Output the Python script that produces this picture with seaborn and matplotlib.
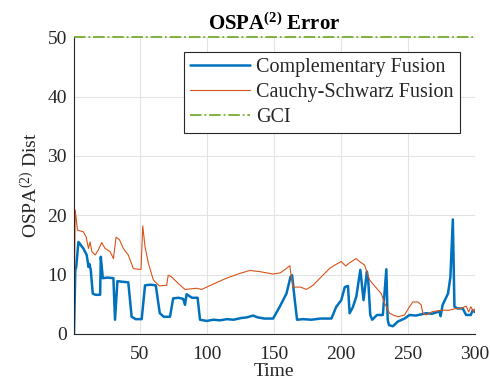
import matplotlib
matplotlib.use("Agg")
import matplotlib.pyplot as plt
import seaborn as sns
import pandas as pd

# Complementary Fusion error over time
comp_t = [1, 2, 2.6, 4.3, 8, 10.5, 11.8, 12.5, 13.5, 15, 17, 20.5, 21, 22.5, 26,
          30.4, 31.6, 33.4, 37, 41.5, 44, 47, 51.5, 54, 58, 62, 65, 68, 72.6,
          75, 79, 82.5, 83.8, 85, 89, 93.2, 95, 100, 105, 110, 115, 120, 126,
          130, 134.6, 138, 143, 149.5, 154.5, 159.5, 162.5, 163.7, 165.7, 167.4,
          172, 178, 185, 193, 196.7, 200.4, 203, 205.4, 206.6, 209, 211.6,
          214.6, 217, 219.5, 220.5, 222, 223.5, 227, 231.4, 234, 235, 236,
          238.9, 242.6, 247.6, 251.3, 256, 260, 263.7, 268, 273.6, 274.5, 276,
          280, 281.8, 283.6, 284.8, 287, 291, 293.5, 297, 298.4, 300]
comp_v = [0, 11.0, 11.1, 15.5, 14.4, 13.3, 11.3, 11.8, 10.8, 6.8, 6.6, 6.6, 13.0, 9.4, 9.5,
          9.4, 2.4, 8.9, 8.8, 8.7, 2.9, 2.5, 2.5, 8.2, 8.3, 8.2, 3.5, 2.9, 2.9,
          6.0, 6.1, 5.9, 4.9, 6.7, 6.1, 6.1, 2.4, 2.2, 2.4, 2.3, 2.5, 2.4, 2.7,
          2.8, 3.1, 2.8, 2.6, 2.6, 4.6, 6.8, 9.6, 9.9, 5.7, 2.4, 2.5, 2.4,
          2.6, 2.6, 4.6, 5.7, 7.9, 8.1, 3.5, 4.5, 6.3, 10.8, 5.7, 10.5, 9.0,
          3.2, 2.4, 3.2, 3.2, 10.9, 2.4, 1.5, 1.3, 2.1, 2.6, 3.2, 3.1, 3.3,
          3.5, 3.4, 3.8, 3.0, 4.9, 6.8, 9.6, 19.3, 4.6, 4.3, 4.3, 3.2, 3.2,
          4.0, 3.7]

# Cauchy-Schwarz Fusion error over time
cs_t = [1, 1.9, 3.6, 8, 10, 11.8, 13, 14.3, 16.8, 19, 21.7, 24.2, 27.9, 30.4,
        32.4, 34.9, 37.8, 41.5, 45.3, 49, 51, 52.3, 54, 56.5, 60.2, 64.7, 70.1,
        71.3, 73.9, 78.8, 83.8, 92.5, 96.2, 104.8, 114.8, 124.7, 132.2, 139.6,
        149.5, 155, 159.5, 162, 163, 164.4, 170, 174.4, 179.3, 186.7, 191.7,
        195.5, 200.4, 203.6, 206.6, 211.6, 214, 217.8, 221.5, 225.2, 230.2,
        232.7, 236.4, 239, 242.6, 247.6, 251.3, 253.8, 257.5, 260, 261.2,
        263.7, 268.7, 276, 281, 286, 289.7, 293.5, 295.5, 297, 299, 300]
cs_v = [0, 20.9, 17.5, 17.2, 16.4, 14.4, 15.5, 13.9, 13.3, 14.1, 15.4, 14.4,
        13.9, 12.7, 16.3, 15.9, 14.4, 13.3, 11.0, 10.9, 10.9, 18.2, 14.7, 11.9,
        9.1, 8.1, 8.2, 9.9, 9.6, 8.5, 7.5, 7.7, 7.5, 8.4, 9.4, 10.2, 10.7, 10.5,
        10.1, 10.3, 11.05, 11.5, 9.9, 7.9, 7.9, 7.5, 8.2, 9.9, 11.05, 11.6,
        12.2, 11.45, 12.0, 12.7, 12.2, 11.6, 9.1, 8.1, 6.8, 5.2, 3.5, 3.2, 2.9,
        3.2, 4.6, 5.4, 5.4, 4.9, 3.5, 3.2, 3.8, 4.0, 4.0, 4.3, 4.3, 4.7, 3.7,
        4.6, 3.8, 4.2]

# GCI stays at the cutoff value
gci_t = [1, 300]
gci_v = [50, 50]

x_ticks = [50, 100, 150, 200, 250, 300]
y_ticks = [0, 10, 20, 30, 40, 50]

sns.set_theme(style="whitegrid")
plt.rcParams["font.family"] = ["Liberation Serif", "DejaVu Serif"]
plt.rcParams["mathtext.fontset"] = "custom"
plt.rcParams["mathtext.rm"] = "Liberation Serif"
plt.rcParams["mathtext.it"] = "Liberation Serif:italic"
plt.rcParams["mathtext.bf"] = "Liberation Serif:bold"

comp_df = pd.DataFrame({"Time": comp_t, "Dist": comp_v})
cs_df = pd.DataFrame({"Time": cs_t, "Dist": cs_v})
gci_df = pd.DataFrame({"Time": gci_t, "Dist": gci_v})

fig = plt.figure(figsize=(4.9, 3.87), dpi=100)
ax = fig.add_axes([0.151, 0.137, 0.818, 0.767])

sns.lineplot(data=comp_df, x="Time", y="Dist", ax=ax, color="#0072BD",
             linewidth=1.8, label="Complementary Fusion")
sns.lineplot(data=cs_df, x="Time", y="Dist", ax=ax, color="#D95319",
             linewidth=0.8, label="Cauchy-Schwarz Fusion")
sns.lineplot(data=gci_df, x="Time", y="Dist", ax=ax, color="#77AC30",
             linewidth=1.3, linestyle="-.", label="GCI")
# the GCI line sits on the upper limit; keep it fully visible
ax.lines[-1].set_clip_on(False)
ax.lines[-1].set_zorder(5)

ax.set_xlim(1, 300)
ax.set_ylim(0, 50)
ax.set_xticks(x_ticks)
ax.set_yticks(y_ticks)
ax.grid(True, color="#e3e3e3", linewidth=0.8)
ax.set_axisbelow(True)
ax.set_facecolor("white")
for side in ["top", "right"]:
    ax.spines[side].set_visible(False)
for side in ["left", "bottom"]:
    ax.spines[side].set_visible(True)
    ax.spines[side].set_color("#262626")
    ax.spines[side].set_linewidth(0.8)
ax.tick_params(axis="both", direction="in", length=4, width=0.8,
               color="#262626", labelsize=14, labelcolor="#262626", pad=5)
ax.tick_params(axis="x", pad=9)

ax.set_xlabel("Time", fontsize=14, color="#262626", labelpad=0)
ax.set_ylabel(r"OSPA$^{(2)}$ Dist", fontsize=14, color="#262626", labelpad=4)
ax.set_title(r"OSPA$^{\mathbf{(2)}}$ Error", fontsize=15, fontweight="bold",
             color="#000000", pad=5)

leg = ax.legend(loc="upper right", bbox_to_anchor=(0.963, 0.95), fontsize=14.5,
                frameon=True, fancybox=False, framealpha=1, borderpad=0.3,
                handlelength=3.0, handletextpad=0.3, labelspacing=0.28,
                borderaxespad=0)
leg.get_frame().set_edgecolor("#262626")
leg.get_frame().set_linewidth(0.8)

fig.savefig("out.png", dpi=100)
